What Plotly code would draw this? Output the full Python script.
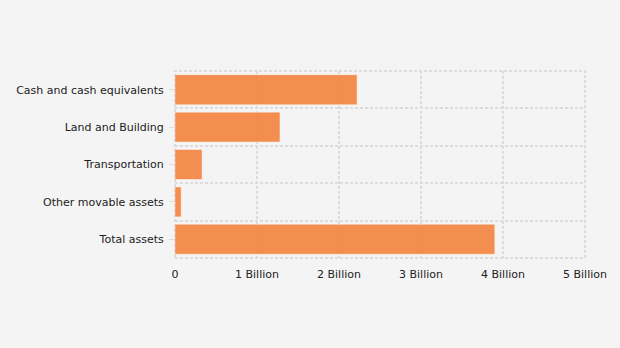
import plotly.graph_objects as go

categories = ["Cash and cash equivalents", "Land and Building", "Transportation",
              "Other movable assets", "Total assets"]
values = [2.22e9, 1.28e9, 0.33e9, 0.075e9, 3.90e9]
x_tickvals = [0, 1e9, 2e9, 3e9, 4e9, 5e9]
x_ticktext = ["0", "1 Billion", "2 Billion", "3 Billion", "4 Billion", "5 Billion"]

positions = list(range(len(categories)))

fig = go.Figure(go.Bar(
    x=values, y=positions, orientation="h",
    marker=dict(color="#f4843f", opacity=0.9,
                line=dict(color="rgba(255,255,255,0.4)", width=1)),
    width=0.8, hoverinfo="x+text", text=categories, textposition="none",
))

grid = "#dcdcdc"
fig.update_layout(
    width=620, height=348,
    margin=dict(l=175, r=35, t=71, b=90),
    paper_bgcolor="#f4f4f4", plot_bgcolor="#f4f4f4",
    font=dict(family="DejaVu Sans", size=11, color="#222"),
    showlegend=False,
    xaxis=dict(range=[0, 5e9], tickvals=x_tickvals, ticktext=x_ticktext,
               showgrid=True, gridcolor=grid, gridwidth=2, griddash="3px,2px",
               zeroline=False, showline=False, ticks="", ticklabelstandoff=8),
    yaxis=dict(range=[4.5, -0.5], tickvals=positions, ticktext=categories,
               showgrid=False, zeroline=False, showline=False,
               ticks="outside", ticklen=5, tickcolor=grid, ticklabelstandoff=3,
               minor=dict(tick0=0.5, dtick=1, showgrid=True, gridcolor=grid,
                          gridwidth=2, griddash="3px,2px", ticks="")),
    shapes=[dict(type="rect", xref="paper", yref="paper", x0=0, x1=1, y0=0, y1=1,
                 line=dict(color=grid, width=2, dash="3px,2px"), layer="below")],
)

fig.write_html("out.html")
